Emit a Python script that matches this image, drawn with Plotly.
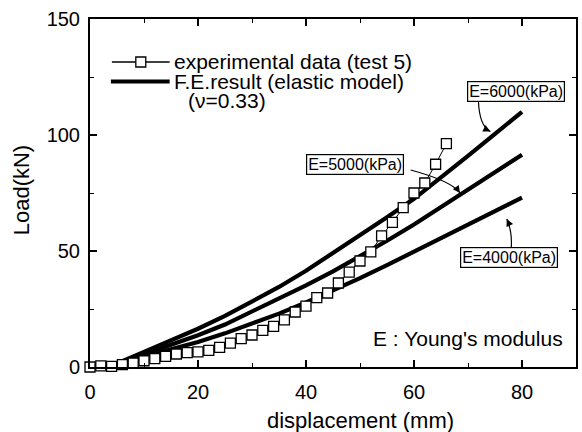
import plotly.graph_objects as go

# ---------------- data ----------------
exp_x = [0, 2, 4, 6, 8, 10, 12, 14, 16, 18, 20, 22, 24, 26, 28, 30, 32, 34,
         36, 38, 40, 42, 44, 46, 48, 50, 52, 54, 56, 58, 60, 62, 64, 66]
exp_y = [0.0, 0.5, 0.3, 1.0, 1.7, 2.7, 3.6, 4.6, 5.6, 6.2, 6.5, 7.2, 8.5, 10.3,
         12.2, 13.8, 15.8, 17.5, 20.3, 23.7, 26.2, 29.9, 31.9, 36.2, 40.9, 45.7,
         49.6, 56.5, 62.3, 68.7, 75.0, 79.3, 87.4, 96.3]

fe_x = [0, 5, 10, 15, 20, 25, 30, 35, 40, 45, 50, 55, 60, 65, 70, 75, 80]
fe_e6000 = [0, 1.5, 6.5, 11.5, 16.5, 22.0, 28.0, 34.5, 41.5, 49.0, 56.5, 64.5,
            72.5, 81.5, 91.0, 100.5, 110.0]
fe_e5000 = [0, 1.5, 5.5, 9.5, 13.7, 18.3, 23.8, 29.5, 35.2, 41.2, 47.6, 54.4,
            61.4, 68.8, 76.5, 84.0, 91.5]
fe_e4000 = [0, 1.3, 4.5, 7.5, 10.8, 14.5, 18.6, 23.0, 27.8, 32.9, 38.3, 43.9,
            49.7, 55.5, 61.3, 67.1, 73.0]

x_ticks = [0, 20, 40, 60, 80]
y_ticks = [0, 50, 100, 150]
x_range = [0, 90]
y_range = [0, 150]

legend_labels = ["experimental data (test 5)", "F.E.result (elastic model)", "(\u03bd=0.33)"]
e_labels = ["E=6000(kPa)", "E=5000(kPa)", "E=4000(kPa)"]
note = "E : Young's modulus"

FONT = "Liberation Sans, Arial, sans-serif"

# ---------------- layout geometry ----------------
W, H = 582, 432
ML, MR, MT, MB = 90, 4, 19, 65
PW, PH = W - ML - MR, H - MT - MB


def px(xp):
    return (xp - ML) / PW


def py(yp):
    return (H - MB - yp) / PH


fig = go.Figure()

for ys in (fe_e6000, fe_e5000, fe_e4000):
    fig.add_trace(go.Scatter(x=fe_x, y=ys, mode="lines",
                             line=dict(color="black", width=4.2),
                             showlegend=False, hoverinfo="skip"))

fig.add_trace(go.Scatter(x=exp_x, y=exp_y, mode="lines+markers",
                         line=dict(color="black", width=1),
                         marker=dict(symbol="square", size=10, color="white",
                                     line=dict(color="black", width=1.3)),
                         showlegend=False, cliponaxis=False))

axis_common = dict(showline=True, linecolor="black", linewidth=2, mirror="allticks",
                   ticks="inside", ticklen=7, tickwidth=1.5, tickcolor="black",
                   showgrid=False, zeroline=False,
                   tickfont=dict(family=FONT, size=20, color="black"))

fig.update_xaxes(range=x_range, tickvals=x_ticks, ticklabelstandoff=6,
                 minor=dict(dtick=10, tick0=0, ticks="inside", ticklen=4,
                            tickwidth=1.2, tickcolor="black"),
                 **axis_common)
fig.update_yaxes(range=y_range, tickvals=y_ticks, ticklabelstandoff=4,
                 minor=dict(dtick=25, tick0=0, ticks="inside", ticklen=4,
                            tickwidth=1.2, tickcolor="black"),
                 **axis_common)

shapes = []
annotations = []

# axis titles
annotations.append(dict(text="displacement (mm)", x=px(362), y=py(420), xref="paper", yref="paper",
                        xanchor="center", yanchor="middle", showarrow=False,
                        font=dict(family=FONT, size=22, color="black")))
annotations.append(dict(text="Load(kN)", x=px(21), y=py(190), xref="paper", yref="paper",
                        xanchor="center", yanchor="middle", textangle=-90, showarrow=False,
                        font=dict(family=FONT, size=22, color="black")))

# manual legend
shapes.append(dict(type="line", xref="paper", yref="paper", x0=px(112), x1=px(170),
                   y0=py(62), y1=py(62), line=dict(color="black", width=1.3)))
shapes.append(dict(type="rect", xref="paper", yref="paper", x0=px(136), x1=px(146),
                   y0=py(57), y1=py(67), fillcolor="white",
                   line=dict(color="black", width=1.3)))
shapes.append(dict(type="line", xref="paper", yref="paper", x0=px(111), x1=px(170),
                   y0=py(81.5), y1=py(81.5), line=dict(color="black", width=4.2)))
for txt, lx, ly in zip(legend_labels, [172, 172, 186], [61.5, 81.5, 100.5]):
    annotations.append(dict(text=txt, x=px(lx), y=py(ly), xref="paper", yref="paper",
                            xanchor="left", yanchor="middle", showarrow=False,
                            font=dict(family=FONT, size=21, color="black")))

# E boxes (center positions in pixels)
box_pos = [(518, 91.5), (356.5, 164), (511, 257.5)]
for lab, (bx, by) in zip(e_labels, box_pos):
    annotations.append(dict(text=lab, x=px(bx), y=py(by), xref="paper", yref="paper",
                            xanchor="center", yanchor="middle",
                            showarrow=False, bgcolor="white", bordercolor="black",
                            borderwidth=1.2, borderpad=1,
                            font=dict(family=FONT, size=16, color="black")))

# curved leader arrows (pixel coords: start, control, end)
curves = [((480, 101), (481, 126), (492, 131.5)),
          ((412, 170), (453, 181), (461.5, 193)),
          ((513, 248), (514, 231), (508.5, 219))]
for (s, c, e) in curves:
    path = "M %.4f,%.4f Q %.4f,%.4f %.4f,%.4f" % (px(s[0]), py(s[1]), px(c[0]), py(c[1]),
                                                  px(e[0]), py(e[1]))
    shapes.append(dict(type="path", xref="paper", yref="paper", path=path,
                       line=dict(color="black", width=1.2)))
    dx, dy = e[0] - c[0], e[1] - c[1]
    n = (dx * dx + dy * dy) ** 0.5
    annotations.append(dict(text="", x=px(e[0]), y=py(e[1]), xref="paper", yref="paper",
                            showarrow=True, arrowhead=2, arrowsize=1.2, arrowwidth=1.2,
                            arrowcolor="black", ax=-dx / n * 8, ay=-dy / n * 8))

annotations.append(dict(text=note, x=px(567), y=py(338), xref="paper", yref="paper",
                        xanchor="right", yanchor="middle", showarrow=False,
                        font=dict(family=FONT, size=21, color="black")))

fig.update_layout(width=W, height=H, margin=dict(l=ML, r=MR, t=MT, b=MB),
                  paper_bgcolor="white", plot_bgcolor="white",
                  shapes=shapes, annotations=annotations, showlegend=False,
                  font=dict(family=FONT, color="black"))

fig.write_html("out.html", config={"displayModeBar": False},
               post_script="document.body.style.margin='0';document.body.style.overflow='hidden';")
